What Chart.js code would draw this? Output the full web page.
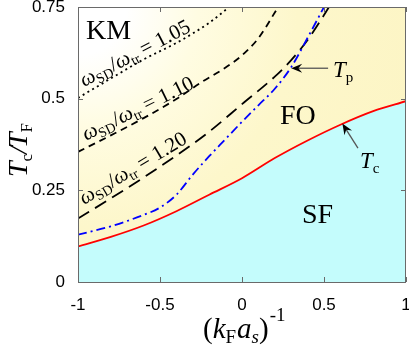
<!DOCTYPE html>
<html>
<head>
<meta charset="utf-8">
<script src="https://cdn.jsdelivr.net/npm/chart.js@4.4.1/dist/chart.umd.min.js"></script>
<style>
html,body{margin:0;padding:0;background:#fff;}
#wrap{width:409px;height:346px;}
</style>
</head>
<body>
<div id="wrap"><canvas id="c" width="409" height="346"></canvas></div>
<script>
// ---- data ----
const xTicks = [-1, -0.5, 0, 0.5, 1];
const xTickLabels = ['-1', '-0.5', '0', '0.5', '1'];
const yTicks = [0, 0.25, 0.5, 0.75];
const yTickLabels = ['0', '0.25', '0.5', '0.75'];

// T_c (red, solid)
const tcX = [-1, -0.8, -0.6, -0.4, -0.2, 0, 0.2, 0.4, 0.6, 0.8, 1];
const tcY = [0.097, 0.123, 0.154, 0.193, 0.238, 0.283, 0.338, 0.386, 0.429, 0.466, 0.493];
// T_p (blue, dash-dot)
const tpX = [-1, -0.8, -0.6, -0.5, -0.4, -0.3, -0.2, -0.1, 0, 0.1, 0.2, 0.3, 0.4, 0.5];
const tpY = [0.129, 0.152, 0.183, 0.203, 0.238, 0.293, 0.343, 0.39, 0.437, 0.482, 0.527, 0.586, 0.666, 0.75];
// omega_SD/omega_tr = 1.20 (long dash)
const w120X = [-1, -0.8, -0.6, -0.4, -0.2, 0, 0.2, 0.3, 0.4, 0.5, 0.53];
const w120Y = [0.173, 0.228, 0.285, 0.345, 0.41, 0.485, 0.56, 0.605, 0.66, 0.728, 0.75];
// omega_SD/omega_tr = 1.10 (short dash)
const w110X = [-1, -0.8, -0.6, -0.4, -0.25, -0.1, 0, 0.1, 0.2, 0.22];
const w110Y = [0.355, 0.40, 0.447, 0.499, 0.544, 0.585, 0.618, 0.665, 0.735, 0.75];
// omega_SD/omega_tr = 1.05 (dotted)
const w105X = [-1, -0.8, -0.6, -0.4, -0.3, -0.2, -0.1, -0.08];
const w105Y = [0.502, 0.555, 0.607, 0.652, 0.678, 0.707, 0.742, 0.75];

const curveLabels = ['1.05', '1.10', '1.20'];

function pts(xs, ys){ return xs.map((x,i)=>({x:x, y:ys[i]})); }

const SERIF = '"Liberation Serif", "DejaVu Serif", serif';
const SANS = '"Liberation Sans", Arial, sans-serif';

function drawRich(ctx, x, y, parts, angle){
  ctx.save();
  ctx.translate(x, y);
  if (angle) ctx.rotate(angle);
  ctx.textBaseline = 'alphabetic';
  ctx.textAlign = 'left';
  let cx = 0;
  for (const p of parts){
    ctx.font = p.font;
    ctx.fillStyle = p.color || '#000';
    ctx.fillText(p.t, cx + (p.dx||0), p.dy||0);
    cx += ctx.measureText(p.t).width + (p.dx||0) + (p.after||0);
  }
  ctx.restore();
}
function arrow(ctx, x1, y1, x2, y2){
  const a = Math.atan2(y2-y1, x2-x1);
  const L = 11, W = 4.5;
  ctx.save();
  ctx.strokeStyle = '#555';
  ctx.lineWidth = 1.3;
  ctx.beginPath();
  ctx.moveTo(x1, y1);
  ctx.lineTo(x2 - Math.cos(a)*6, y2 - Math.sin(a)*6);
  ctx.stroke();
  ctx.translate(x2, y2);
  ctx.rotate(a);
  ctx.fillStyle = '#000';
  ctx.beginPath();
  ctx.moveTo(0,0);
  ctx.lineTo(-L, -W);
  ctx.lineTo(-L*0.65, 0);
  ctx.lineTo(-L, W);
  ctx.closePath();
  ctx.fill();
  ctx.restore();
}

const decor = {
  id: 'decor',
  beforeDraw(chart){
    const {ctx, chartArea:a} = chart;
    ctx.save();
    const g = ctx.createRadialGradient(a.left, a.top, 0, a.left, a.top, 400);
    g.addColorStop(0, '#ffffff');
    g.addColorStop(0.12, '#ffffff');
    g.addColorStop(0.3, '#fffce2');
    g.addColorStop(0.55, '#fdf7cb');
    g.addColorStop(1, '#fcf4c2');
    ctx.fillStyle = g;
    ctx.fillRect(a.left, a.top, a.right-a.left, a.bottom-a.top);
    ctx.restore();
  },
  afterDraw(chart){
    const {ctx, chartArea:a, scales} = chart;
    const X = v => scales.x.getPixelForValue(v);
    const Y = v => scales.y.getPixelForValue(v);
    ctx.save();
    ctx.strokeStyle = '#6a6a6a';
    ctx.lineWidth = 1;
    ctx.strokeRect(Math.round(a.left)+0.5, Math.round(a.top)+0.5, Math.round(a.right-a.left)-1, Math.round(a.bottom-a.top));
    ctx.beginPath();
    for (const v of xTicks){
      const px = Math.round(X(v))+0.5;
      ctx.moveTo(px, a.bottom); ctx.lineTo(px, a.bottom-5);
      ctx.moveTo(px, a.top); ctx.lineTo(px, a.top+5);
    }
    for (const v of yTicks){
      const py = Math.round(Y(v))+0.5;
      ctx.moveTo(a.left, py); ctx.lineTo(a.left+5, py);
      ctx.moveTo(a.right, py); ctx.lineTo(a.right-5, py);
    }
    ctx.stroke();
    ctx.restore();

    const big = '28px ' + SERIF;
    drawRich(ctx, X(-0.951), Y(0.663), [{t:'KM', font:big}]);
    drawRich(ctx, X(0.232), Y(0.43), [{t:'FO', font:big}]);
    drawRich(ctx, X(0.366), Y(0.16), [{t:'SF', font:big}]);

    drawRich(ctx, X(0.555), Y(0.559), [{t:'T', font:'italic 23px '+SERIF}, {t:'p', font:'15px '+SERIF, dy:5}]);
    arrow(ctx, X(0.525), Y(0.583), X(0.3), Y(0.583));
    drawRich(ctx, X(0.72), Y(0.31), [{t:'T', font:'italic 23px '+SERIF}, {t:'c', font:'15px '+SERIF, dy:5}]);
    arrow(ctx, X(0.707), Y(0.365), X(0.612), Y(0.432));

    const fi = 'italic 21px ' + SERIF, fs = '14px ' + SERIF, fn = '21px ' + SERIF;
    const lab = (val) => [
      {t:'\u03c9', font:fi}, {t:'SD', font:fs, dy:4}, {t:'/', font:fn, dx:0.5},
      {t:'\u03c9', font:fi}, {t:'tr', font:fs, dy:4}, {t:' = ' + val, font:fn}
    ];
    drawRich(ctx, X(-0.963), Y(0.532), lab(curveLabels[0]), -27.5*Math.PI/180);
    drawRich(ctx, X(-0.951), Y(0.385), lab(curveLabels[1]), -26*Math.PI/180);
    drawRich(ctx, X(-0.963), Y(0.21), lab(curveLabels[2]), -31*Math.PI/180);

    drawRich(ctx, 27, 177, [
      {t:'T', font:'italic 28px '+SERIF}, {t:'c', font:'17px '+SERIF, dy:5},
      {t:'/', font:'italic 28px '+SERIF, dx:0}, {t:'T', font:'italic 28px '+SERIF, dx:-2},
      {t:'F', font:'17px '+SERIF, dy:5}
    ], -Math.PI/2);
    drawRich(ctx, 203, 338, [
      {t:'(', font:'29px '+SERIF}, {t:'k', font:'italic 29px '+SERIF},
      {t:'F', font:'19px '+SERIF, dy:5}, {t:'a', font:'italic 29px '+SERIF, dx:1},
      {t:'s', font:'italic 19px '+SERIF, dy:5}, {t:')', font:'29px '+SERIF},
      {t:'-1', font:'19px '+SERIF, dy:-17, dx:1}
    ]);
  }
};

const common = {pointRadius:0, fill:false, borderWidth:1.8, cubicInterpolationMode:'monotone'};

new Chart(document.getElementById('c'), {
  type: 'line',
  data: {
    datasets: [
      Object.assign({}, common, {label:'Tc', data:pts(tcX, tcY), borderColor:'#ff0000', fill:'start', backgroundColor:'#c4fcfc', order:5}),
      Object.assign({}, common, {label:'1.05', data:pts(w105X, w105Y), borderColor:'#000', borderDash:[2,3.5], order:1}),
      Object.assign({}, common, {label:'1.10', data:pts(w110X, w110Y), borderColor:'#000', borderDash:[7,5], order:2}),
      Object.assign({}, common, {label:'1.20', data:pts(w120X, w120Y), borderColor:'#000', borderDash:[13,7], order:3}),
      Object.assign({}, common, {label:'Tp', data:pts(tpX, tpY), borderColor:'#0000ff', borderDash:[9,4,2,4], order:0})
    ]
  },
  options: {
    responsive: false,
    animation: false,
    devicePixelRatio: 1,
    layout: {padding: {top: 7, right: 3, left: 0, bottom: 0}},
    plugins: {legend:{display:false}, tooltip:{enabled:false}},
    scales: {
      x: {
        type: 'linear', min: -1, max: 1,
        grid: {display:false}, border:{display:false},
        afterBuildTicks: s => { s.ticks = xTicks.map(v => ({value:v})); },
        afterFit: s => { s.height = 64; s.paddingLeft = 0; s.paddingRight = 0; },
        ticks: {
          maxRotation: 0, autoSkip: false, padding: 5, color:'#000',
          font: {family: SANS, size: 17},
          callback: (v) => xTickLabels[xTicks.indexOf(v)]
        }
      },
      y: {
        type: 'linear', min: 0, max: 0.75,
        grid: {display:false}, border:{display:false},
        afterBuildTicks: s => { s.ticks = yTicks.map(v => ({value:v})); },
        afterFit: s => { s.width = 78; s.paddingTop = 0; s.paddingBottom = 0; },
        ticks: {
          autoSkip: false, padding: 5, color:'#000',
          font: {family: SANS, size: 17},
          callback: (v) => yTickLabels[yTicks.indexOf(v)]
        }
      }
    }
  },
  plugins: [decor]
});
</script>
</body>
</html>
